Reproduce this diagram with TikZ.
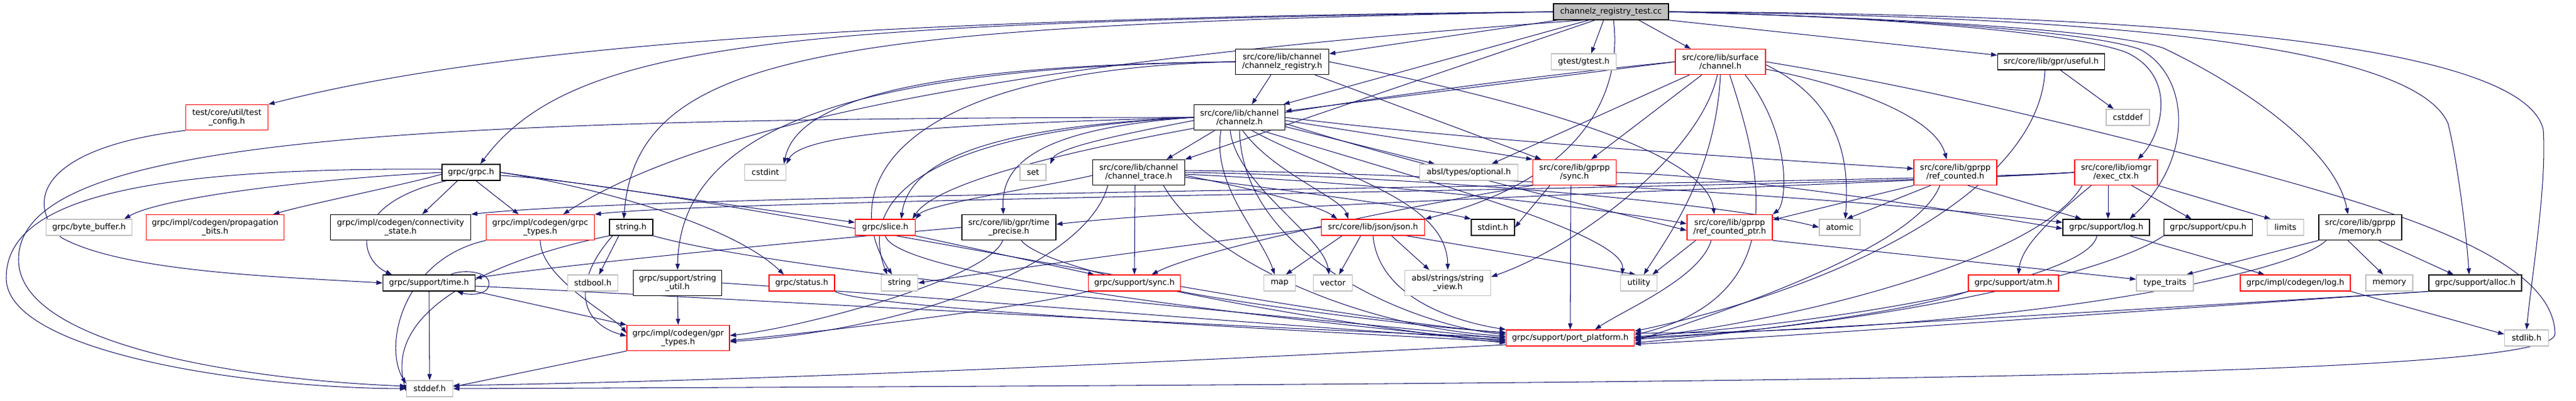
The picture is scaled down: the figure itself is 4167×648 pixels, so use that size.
\documentclass[tikz,border=0pt]{standalone}
\usepackage{fontspec}
\setmainfont{DejaVu Sans}
\usetikzlibrary{arrows.meta}
\definecolor{edgec}{HTML}{191970}
\definecolor{greyb}{HTML}{BFBFBF}
\definecolor{redb}{HTML}{FF0000}
\pgfdeclarelayer{edgelayer}
\pgfsetlayers{edgelayer,main}
\tikzset{
  box/.style={line width=1.3pt, fill=white, minimum height=26, inner sep=0pt, align=center,
              font=\fontsize{13}{14.5}\selectfont},
  nb/.style={box, draw=black},
  ng/.style={box, draw=greyb},
  nr/.style={box, draw=redb},
  tall/.style={minimum height=41},
  e/.style={draw=edgec, line width=1.05pt, -{Triangle[length=10pt,width=7pt]}, fill=none},
}
\begin{document}
\begin{tikzpicture}[x=1pt,y=-1pt]
\useasboundingbox (0,0) rectangle (4167,648);
% ---------------- nodes ----------------
\node[nb, fill=greyb, minimum width=186] (root) at (2606,19) {channelz\_registry\_test.cc};
\node[nr, tall, minimum width=133] (testcfg) at (367,190) {test/core/util/test\\\_config.h};
\node[nb, tall, minimum width=151] (czreg) at (2074,100) {src/core/lib/channel\\/channelz\_registry.h};
\node[ng, minimum width=105] (gtest) at (2562,100) {gtest/gtest.h};
\node[nr, tall, minimum width=146] (surf) at (2783,100) {src/core/lib/surface\\/channel.h};
\node[nb, minimum width=173] (useful) at (3318,100) {src/core/lib/gpr/useful.h};
\node[nb, minimum width=94] (grpch) at (762,279) {grpc/grpc.h};
\node[ng, minimum width=67] (cstdint) at (1238,279) {cstdint};
\node[nb, tall, minimum width=147] (cz) at (2005,190) {src/core/lib/channel\\/channelz.h};
\node[ng, minimum width=70] (cstddef) at (3442,190) {cstddef};
\node[ng, minimum width=42] (set) at (1671,279) {set};
\node[nb, tall, minimum width=149] (ctrace) at (1842,279) {src/core/lib/channel\\/channel\_trace.h};
\node[ng, minimum width=159] (optional) at (2376,279) {absl/types/optional.h};
\node[nr, tall, minimum width=135] (gsync) at (2547,279) {src/core/lib/gprpp\\/sync.h};
\node[nr, tall, minimum width=134] (refc) at (3163,279) {src/core/lib/gprpp\\/ref\_counted.h};
\node[nr, tall, minimum width=134] (execctx) at (3423,279) {src/core/lib/iomgr\\/exec\_ctx.h};
\node[ng, minimum width=139] (bytebuf) at (144,368) {grpc/byte\_buffer.h};
\node[nr, tall, minimum width=223] (propbits) at (348,368) {grpc/impl/codegen/propagation\\\_bits.h};
\node[nb, tall, minimum width=227] (connst) at (648,368) {grpc/impl/codegen/connectivity\\\_state.h};
\node[nr, tall, minimum width=175] (grpctypes) at (874,368) {grpc/impl/codegen/grpc\\\_types.h};
\node[nb, minimum width=70] (stringh) at (1021,368) {string.h};
\node[nr, minimum width=97] (slice) at (1432,368) {grpc/slice.h};
\node[nb, tall, minimum width=152] (tprecise) at (1632,368) {src/core/lib/gpr/time\\\_precise.h};
\node[nr, minimum width=167] (json) at (2221,368) {src/core/lib/json/json.h};
\node[nb, minimum width=70] (stdint) at (2415,368) {stdint.h};
\node[nr, tall, minimum width=138] (rcptr) at (2798,368) {src/core/lib/gprpp\\/ref\_counted\_ptr.h};
\node[ng, minimum width=66] (atomic) at (2976,368) {atomic};
\node[nb, minimum width=140] (log) at (3407,368) {grpc/support/log.h};
\node[nb, minimum width=143] (cpu) at (3572,368) {grpc/support/cpu.h};
\node[ng, minimum width=59] (limits) at (3697,368) {limits};
\node[nb, tall, minimum width=134] (memh) at (3818,368) {src/core/lib/gprpp\\/memory.h};
\node[nb, minimum width=149] (timeh) at (694,458) {grpc/support/time.h};
\node[ng, minimum width=81] (stdbool) at (959,458) {stdbool.h};
\node[nb, tall, minimum width=143] (strutil) at (1096,458) {grpc/support/string\\\_util.h};
\node[nr, minimum width=106] (status) at (1297,458) {grpc/status.h};
\node[ng, minimum width=59] (string) at (1455,458) {string};
\node[nr, minimum width=149] (ssync) at (1835,458) {grpc/support/sync.h};
\node[ng, minimum width=51] (map) at (2070,458) {map};
\node[ng, minimum width=63] (vector) at (2156,458) {vector};
\node[ng, tall, minimum width=139] (strview) at (2342,458) {absl/strings/string\\\_view.h};
\node[ng, minimum width=59] (utility) at (2651,458) {utility};
\node[nr, minimum width=146] (atm) at (3257,458) {grpc/support/atm.h};
\node[ng, minimum width=92] (typetraits) at (3502,458) {type\_traits};
\node[nr, minimum width=178] (clog) at (3713,458) {grpc/impl/codegen/log.h};
\node[ng, minimum width=76] (memory) at (3865,458) {memory};
\node[nb, minimum width=150] (alloc) at (4004,458) {grpc/support/alloc.h};
\node[nr, tall, minimum width=166] (gprtypes) at (1097,547) {grpc/impl/codegen/gpr\\\_types.h};
\node[nr, minimum width=207] (portplat) at (2540,547) {grpc/support/port\_platform.h};
\node[ng, minimum width=71] (stdlib) at (4087,547) {stdlib.h};
\node[ng, minimum width=75] (stddef) at (695,629) {stddef.h};
% ---------------- edges ----------------
\begin{pgfonlayer}{edgelayer}
% root
\draw[e] (root.west) .. controls (1400,30) and (800,75) .. (testcfg.north east);
\draw[e] (root.west) .. controls (1300,38) and (930,60) .. ([xshift=15]grpch.north);
\draw[e] (root.west) .. controls (1350,42) and (1030,80) .. ([xshift=-12]stringh.north);
\draw[e] ([xshift=-45]root.south) .. controls (1900,80) and (1200,160) .. ([xshift=37]grpctypes.north);
\draw[e] ([xshift=-86]root.south) -- ([yshift=13]czreg.east);
\draw[e] ([xshift=-36]root.south) -- ([xshift=-3]cz.north east);
\draw[e] ([xshift=-26]root.south) -- (ctrace.north east);
\draw[e] ([xshift=-12]root.south) -- ([xshift=12]gtest.north);
\draw[e] ([xshift=4]root.south) .. controls (2625,150) and (2560,290) .. (json.north east);
\draw[e] ([xshift=45]root.south) -- ([xshift=-48]surf.north);
\draw[e] (root.south east) -- ([yshift=-3]useful.north west);
\draw[e] (root.east) .. controls (3000,25) and (3350,50) .. (3440,85) .. controls (3525,125) and (3495,220) .. ([xshift=35]execctx.north);
\draw[e] (root.east) .. controls (3050,28) and (3380,50) .. (3462,80) .. controls (3545,125) and (3548,260) .. ([xshift=38]log.north);
\draw[e] (root.east) .. controls (3100,30) and (3420,50) .. (3500,78) .. controls (3650,150) and (3780,250) .. ([xshift=-20]memh.north);
\draw[e] (root.east) .. controls (3300,25) and (3900,60) .. (3960,200) .. controls (3975,260) and (3990,380) .. ([xshift=-10]alloc.north);
\draw[e] (root.east) .. controls (3400,22) and (4080,60) .. (4114,210) .. controls (4120,300) and (4095,450) .. (stdlib.north);
% channelz_registry.h
\draw[e] ([xshift=-18]czreg.south) -- ([xshift=20]cz.north);
\draw[e] (czreg.west) .. controls (1500,105) and (1290,160) .. ([xshift=30]cstdint.north);
\draw[e] (czreg.west) .. controls (1400,108) and (1100,200) .. (strutil.north);
\draw[e] (czreg.west) .. controls (1450,112) and (1350,300) .. ([xshift=-12]string.north);
\draw[e] ([xshift=53]czreg.south) -- ([xshift=-54]gsync.north);
\draw[e] (czreg.east) .. controls (2500,170) and (2760,250) .. ([xshift=-25]rcptr.north);
% channelz.h
\draw[e] ([xshift=-40]cz.south) -- ([xshift=45]ctrace.north);
\draw[e] ([yshift=-5]cz.west) .. controls (1800,220) and (1710,240) .. ([xshift=28]set.north);
\draw[e] (cz.west) .. controls (1600,200) and (1300,210) .. (cstdint.north east);
\draw[e] (cz.west) .. controls (1600,205) and (1470,260) .. ([xshift=26]slice.north);
\draw[e] (cz.west) .. controls (1550,210) and (1380,300) .. ([xshift=-20]string.north);
\draw[e] (cz.west) .. controls (1650,210) and (1620,280) .. ([xshift=-9]tprecise.north);
\draw[e] (cz.west) .. controls (600,190) and (30,230) .. (30,420) .. controls (30,560) and (400,615) .. ([yshift=4]stddef.west);
\draw[e] ([xshift=-30]cz.south) .. controls (1960,300) and (2040,380) .. ([xshift=-8]map.north);
\draw[e] ([xshift=-15]cz.south) .. controls (2000,300) and (2140,380) .. ([xshift=-6]vector.north);
\draw[e] ([xshift=5]cz.south) .. controls (2060,280) and (2170,320) .. ([xshift=-40]json.north);
\draw[e] ([xshift=20]cz.south) .. controls (2150,280) and (2340,320) .. (strview.north);
\draw[e] ([xshift=35]cz.south) .. controls (2300,290) and (2630,380) .. ([xshift=-27]utility.north);
\draw[e] ([xshift=0]cz.south) .. controls (2010,420) and (2300,530) .. ([yshift=6]portplat.west);
\draw[e] ([yshift=-15]cz.east) -- ([xshift=-55]optional.north);
\draw[e] ([yshift=-5]cz.east) -- (gsync.north west);
\draw[e] (cz.east) .. controls (2400,230) and (2900,260) .. ([yshift=6]refc.west);
\draw[e] ([yshift=-10]cz.east) .. controls (2300,270) and (2600,340) .. ([yshift=-5]rcptr.west);
% channel_trace.h
\draw[e] ([yshift=-5]ctrace.west) .. controls (1700,300) and (1500,330) .. (slice.north east);
\draw[e] ([yshift=-5]ctrace.east) .. controls (2000,300) and (2130,330) .. ([xshift=-58]json.north);
\draw[e] ([yshift=-8]ctrace.east) .. controls (2100,310) and (2320,340) .. (stdint.north west);
\draw[e] ([yshift=-3]ctrace.east) .. controls (2300,300) and (2600,340) .. ([yshift=6]rcptr.west);
\draw[e] (ctrace.east) .. controls (2300,285) and (2800,330) .. (atomic.west);
\draw[e] ([yshift=3]ctrace.east) .. controls (2400,280) and (3100,330) .. ([yshift=8]log.west);
\draw[e] ([xshift=-6]ctrace.south) -- (ssync.north);
\draw[e] ([xshift=-50]ctrace.south) .. controls (1760,420) and (1500,530) .. ([yshift=-6]gprtypes.east);
\draw[e] ([xshift=40]ctrace.south) .. controls (1950,420) and (2200,530) .. ([yshift=3]portplat.west);
% surface/channel.h
\draw[e] (surf.west) -- ([yshift=10]cz.east);
\draw[e] ([xshift=-50]surf.south) -- ([xshift=37]optional.north);
\draw[e] ([xshift=-30]surf.south) -- ([xshift=27]gsync.north);
\draw[e] (surf.west) .. controls (2400,130) and (1550,240) .. ([xshift=44]slice.north);
\draw[e] ([xshift=-5]surf.south) .. controls (2750,250) and (2550,400) .. ([yshift=10]strview.east);
\draw[e] ([xshift=0]surf.south) .. controls (2775,280) and (2700,380) .. ([xshift=8]utility.north);
\draw[e] ([xshift=15]surf.south) .. controls (2850,280) and (2900,480) .. ([yshift=5]portplat.east);
\draw[e] ([xshift=40]surf.south) .. controls (2900,220) and (2890,330) .. (rcptr.north east);
\draw[e] ([yshift=-5]surf.east) .. controls (2990,170) and (2990,280) .. ([xshift=9]atomic.north);
\draw[e] ([yshift=-12]surf.east) .. controls (3000,140) and (3130,190) .. ([xshift=-14]refc.north);
\draw[e] (surf.east) .. controls (3100,140) and (3300,190) .. (3500,240) .. controls (3800,320) and (4130,400) .. (4133,540) .. controls (4135,610) and (3000,620) .. (stddef.east);
% sync.h
\draw[e] (gsync.south west) .. controls (2300,330) and (1950,400) .. ([xshift=28]ssync.north);
\draw[e] ([xshift=-6]gsync.south) -- (portplat.north);
\draw[e] (gsync.east) .. controls (2800,285) and (3100,330) .. ([yshift=-2]log.west);
\draw[e] ([xshift=-40]gsync.south) -- (stdint.east);
% ref_counted.h
\draw[e] ([xshift=-40]refc.south) -- ([xshift=11]atomic.north);
\draw[e] (refc.south west) -- ([yshift=-9]rcptr.north east);
\draw[e] ([xshift=20]refc.south) -- ([xshift=-40]log.north);
\draw[e] ([xshift=-25]refc.south) .. controls (3100,400) and (2800,500) .. ([yshift=-5]portplat.east);
% exec_ctx.h
\draw[e] (execctx.west) .. controls (3000,300) and (2000,330) .. ([yshift=5]tprecise.east);
\draw[e] (execctx.west) .. controls (3000,305) and (1200,320) .. (grpctypes.north east);
\draw[e] (execctx.west) .. controls (3000,300) and (1100,310) .. (connst.north east);
\draw[e] ([xshift=-13]execctx.south) -- ([xshift=3]log.north);
\draw[e] ([xshift=25]execctx.south) -- ([xshift=-27]cpu.north);
\draw[e] (execctx.south east) -- ([xshift=-24]limits.north);
\draw[e] ([xshift=-40]execctx.south) .. controls (3310,360) and (3270,400) .. ([xshift=8]atm.north);
\draw[e] ([xshift=-55]execctx.south) .. controls (3300,420) and (2900,520) .. (portplat.east);
% ref_counted_ptr.h
\draw[e] (rcptr.south east) -- ([yshift=6]typetraits.west);
\draw[e] ([xshift=-55]rcptr.south) -- ([xshift=22]utility.north);
\draw[e] ([xshift=-30]rcptr.south) .. controls (2750,450) and (2630,500) .. ([xshift=40]portplat.north);
% json.h
\draw[e] (json.west) .. controls (1900,400) and (1600,440) .. (string.east);
\draw[e] ([xshift=-50]json.south) -- ([xshift=10]map.north);
\draw[e] ([xshift=-20]json.south) -- ([xshift=10]vector.north);
\draw[e] ([xshift=30]json.south) -- ([xshift=-30]strview.north);
\draw[e] ([xshift=54]json.south) -- ([xshift=-5]utility.north);
\draw[e] ([xshift=0]json.south) .. controls (2230,480) and (2350,520) .. (portplat.north west);
% grpc.h
\draw[e] (grpch.west) .. controls (500,290) and (260,320) .. ([xshift=57]bytebuf.north);
\draw[e] ([yshift=-3]grpch.west) .. controls (650,300) and (500,330) .. ([xshift=94]propbits.north);
\draw[e] ([xshift=-22]grpch.south) -- ([xshift=35]connst.north);
\draw[e] ([xshift=8]grpch.south) -- ([xshift=-35]grpctypes.north);
\draw[e] ([xshift=-40]grpch.south) .. controls (560,330) and (580,420) .. ([xshift=-60]timeh.north);
\draw[e] (grpch.east) .. controls (950,300) and (1180,360) .. ([xshift=-29]status.north);
\draw[e] (grpch.east) -- ([yshift=8]slice.west);
\draw[e] ([yshift=5]grpch.west) .. controls (200,270) and (10,330) .. (10,450) .. controls (10,570) and (400,628) .. (stddef.west);
\draw[e] ([yshift=-5]grpch.east) .. controls (1100,300) and (2000,500) .. ([yshift=8]portplat.west);
% test_config.h
\draw[e] (testcfg.south west) .. controls (60,240) and (40,330) .. (100,385) .. controls (200,440) and (450,448) .. (timeh.west);
% grpc_types.h, string.h, slice.h, time_precise.h
\draw[e] (grpctypes.south) .. controls (874,450) and (990,510) .. ([yshift=8]gprtypes.west);
\draw[e] (grpctypes.south west) .. controls (650,420) and (620,560) .. ([yshift=8]stddef.west);
\draw[e] ([xshift=-20]stringh.south) -- ([xshift=10]stdbool.north);
\draw[e] ([xshift=-30]stringh.south) .. controls (930,450) and (930,520) .. ([yshift=3]gprtypes.west);
\draw[e] (stringh.south west) .. controls (800,420) and (620,500) .. ([yshift=-4]stddef.west);
\draw[e] (stringh.south east) .. controls (1300,450) and (2200,520) .. ([yshift=-2]portplat.west);
\draw[e] (slice.south) .. controls (1450,450) and (2100,520) .. ([yshift=-5]portplat.west);
\draw[e] (slice.south east) -- ([xshift=-65]ssync.north);
\draw[e] (tprecise.west) .. controls (1300,390) and (900,430) .. ([yshift=8]timeh.east);
\draw[e] ([xshift=-10]tprecise.south) .. controls (1600,450) and (1300,530) .. ([yshift=4]gprtypes.east);
\draw[e] ([xshift=20]tprecise.south) .. controls (1700,450) and (2200,530) .. ([yshift=-8]portplat.west);
% time.h
\draw[e] (timeh.south) -- (stddef.north);
\draw[e] (timeh.south east) -- (gprtypes.north west);
\draw[e] ([yshift=-5]timeh.east) .. controls (1300,490) and (2000,530) .. ([yshift=1]portplat.west);
\draw[e] ([xshift=-40]timeh.north east) .. controls (745,436) and (790,438) .. (791,458) .. controls (792,478) and (760,478) .. ([xshift=-30]timeh.south east);
% others into gpr_types / port_platform
\draw[e] (strutil.south) -- (gprtypes.north);
\draw[e] (strutil.east) .. controls (1500,480) and (2100,530) .. ([yshift=-3]portplat.west);
\draw[e] (status.south east) .. controls (1400,500) and (2100,535) .. ([yshift=-6]portplat.west);
\draw[e] (ssync.south west) .. controls (1650,500) and (1300,540) .. ([yshift=-4]gprtypes.east);
\draw[e] (ssync.south east) .. controls (2000,490) and (2300,530) .. ([yshift=9]portplat.west);
\draw[e] (gprtypes.south west) -- ([yshift=3]stddef.east);
\draw[e] ([xshift=38]log.south) -- ([xshift=-50]clog.north);
\draw[e] ([xshift=-15]log.south) .. controls (3380,450) and (3000,520) .. ([yshift=2]portplat.east);
\draw[e] (cpu.south west) .. controls (3400,450) and (3000,530) .. ([yshift=-2]portplat.east);
\draw[e] (atm.south west) .. controls (3100,500) and (2900,530) .. ([yshift=-8]portplat.east);
\draw[e] (memh.south west) -- ([xshift=35]typetraits.north);
\draw[e] ([xshift=-20]memh.south) -- ([xshift=-10]memory.north);
\draw[e] ([xshift=30]memh.south) -- ([xshift=-35]alloc.north);
\draw[e] ([xshift=-55]memh.south) .. controls (3700,450) and (3200,540) .. ([yshift=8]portplat.east);
\draw[e] (alloc.south west) .. controls (3000,530) and (1600,610) .. ([yshift=5]stddef.east);
\draw[e] (alloc.south west) .. controls (3500,500) and (2900,545) .. ([yshift=-10]portplat.east);
\draw[e] (clog.south east) -- ([yshift=6]stdlib.west);
\draw[e] ([xshift=15]useful.south) -- ([xshift=-23]cstddef.north);
\draw[e] ([xshift=-10]useful.south) .. controls (3300,300) and (3000,460) .. ([yshift=11]portplat.east);
\end{pgfonlayer}
\end{tikzpicture}
\end{document}
